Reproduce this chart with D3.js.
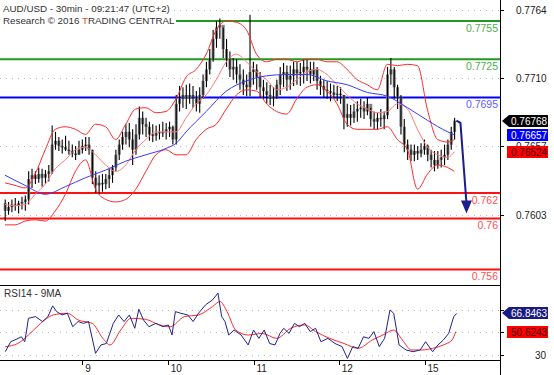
<!DOCTYPE html>
<html>
<head>
<meta charset="utf-8">
<script src="https://cdn.jsdelivr.net/npm/d3@7/dist/d3.min.js"></script>
<style>
  body { margin: 0; background: #fff; }
  svg { display: block; font-family: "Liberation Sans", Arial, sans-serif; }
</style>
</head>
<body>
<svg id="chart" width="554" height="375"></svg>
<script>
// hourly candles (open = previous close)
const firstOpen = 0.7612;
const closes = [
  0.7606,0.7609,0.7611,0.7610,0.7612,0.7613,0.7615,0.7631,0.7634,0.7631,
  0.7635,0.7632,0.7635,0.7637,0.7658,0.7661,0.7657,0.7656,0.7654,0.7653,
  0.7651,0.7650,0.7654,0.7657,0.7658,0.7654,0.7632,0.7626,0.7628,0.7627,
  0.7631,0.7634,0.7640,0.7650,0.7658,0.7664,0.7668,0.7662,0.7654,0.7666,
  0.7679,0.7674,0.7672,0.7666,0.7665,0.7667,0.7668,0.7668,0.7670,0.7672,
  0.7662,0.7690,0.7694,0.7697,0.7694,0.7697,0.7695,0.7690,0.7697,0.7708,
  0.7717,0.7726,0.7741,0.7750,0.7752,0.7733,0.7725,0.7717,0.7719,0.7713,
  0.7709,0.7705,0.7703,0.7715,0.7717,0.7711,0.7703,0.7700,0.7697,0.7694,
  0.7695,0.7705,0.7713,0.7715,0.7709,0.7712,0.7717,0.7714,0.7715,0.7719,
  0.7717,0.7713,0.7717,0.7708,0.7704,0.7701,0.7700,0.7699,0.7697,0.7698,
  0.7697,0.7679,0.7682,0.7679,0.7684,0.7686,0.7687,0.7684,0.7690,0.7678,
  0.7676,0.7679,0.7678,0.7681,0.7713,0.7717,0.7703,0.7695,0.7672,0.7658,
  0.7654,0.7650,0.7653,0.7651,0.7654,0.7657,0.7650,0.7646,0.7642,0.7646,
  0.7648,0.7650,0.7658,0.7668,0.76768
];
const highs = [
  0.7615,0.7613,0.7615,0.7616,0.7614,0.7617,0.7618,0.7637,0.7639,0.7637,
  0.7640,0.7639,0.7638,0.7642,0.7673,0.7668,0.7664,0.7662,0.7665,0.7661,
  0.7658,0.7657,0.7661,0.7662,0.7664,0.7664,0.7654,0.7637,0.7634,0.7635,
  0.7635,0.7639,0.7642,0.7654,0.7662,0.7668,0.7674,0.7675,0.7670,0.7674,
  0.7688,0.7684,0.7679,0.7676,0.7674,0.7673,0.7674,0.7676,0.7675,0.7676,
  0.7673,0.7697,0.7704,0.7703,0.7705,0.7706,0.7704,0.7700,0.7703,0.7713,
  0.7723,0.7733,0.7748,0.7755,0.7757,0.7750,0.7741,0.7731,0.7726,0.7725,
  0.7721,0.7717,0.7713,0.7760,0.7723,0.7721,0.7715,0.7709,0.7707,0.7705,
  0.7703,0.7709,0.7719,0.7722,0.7720,0.7720,0.7723,0.7723,0.7722,0.7725,
  0.7725,0.7723,0.7723,0.7719,0.7712,0.7709,0.7708,0.7706,0.7705,0.7704,
  0.7703,0.7697,0.7690,0.7689,0.7690,0.7692,0.7694,0.7692,0.7695,0.7687,
  0.7684,0.7683,0.7686,0.7684,0.7719,0.7726,0.7719,0.7705,0.7697,0.7678,
  0.7662,0.7658,0.7658,0.7657,0.7659,0.7662,0.7658,0.7654,0.7653,0.7653,
  0.7654,0.7658,0.7662,0.7672,0.7679
];
const lows = [
  0.7598,0.7603,0.7605,0.7606,0.7604,0.7607,0.7606,0.7611,0.7624,0.7627,
  0.7628,0.7625,0.7627,0.7629,0.7635,0.7654,0.7653,0.7651,0.7653,0.7650,
  0.7648,0.7646,0.7650,0.7651,0.7653,0.7650,0.7627,0.7620,0.7619,0.7621,
  0.7623,0.7624,0.7628,0.7637,0.7646,0.7654,0.7658,0.7656,0.7642,0.7650,
  0.7662,0.7666,0.7664,0.7661,0.7660,0.7661,0.7662,0.7664,0.7662,0.7664,
  0.7658,0.7658,0.7684,0.7687,0.7686,0.7690,0.7687,0.7684,0.7683,0.7694,
  0.7703,0.7713,0.7723,0.7734,0.7741,0.7726,0.7719,0.7711,0.7709,0.7706,
  0.7701,0.7697,0.7696,0.7696,0.7705,0.7701,0.7695,0.7694,0.7690,0.7689,
  0.7688,0.7694,0.7697,0.7703,0.7700,0.7701,0.7704,0.7705,0.7704,0.7706,
  0.7708,0.7706,0.7708,0.7701,0.7697,0.7695,0.7694,0.7692,0.7694,0.7692,
  0.7690,0.7670,0.7672,0.7673,0.7675,0.7676,0.7679,0.7678,0.7681,0.7672,
  0.7670,0.7670,0.7672,0.7670,0.7678,0.7705,0.7694,0.7686,0.7666,0.7652,
  0.7646,0.7645,0.7645,0.7646,0.7648,0.7650,0.7645,0.7640,0.7637,0.7639,
  0.7640,0.7642,0.7646,0.7654,0.7662
];

// Bollinger bands, sampled every 3 bars (last sample on the last bar)
const bandIdx = [0,3,6,9,12,15,18,21,24,27,30,33,36,39,42,45,48,51,54,57,60,63,66,69,72,75,78,81,84,87,90,93,96,99,102,105,108,111,114,117,120,123,126,129,132,134];
const bandUpper = [
  0.7628,0.7626,0.7624,0.7635,0.7654,0.7670,0.7672,0.7670,0.7666,0.7674,
  0.7672,0.7662,0.7674,0.7686,0.7687,0.7683,0.7684,0.7694,0.7711,0.7717,
  0.7729,0.7748,0.7755,0.7754,0.7748,0.7729,0.7723,0.7725,0.7725,0.7723,
  0.7725,0.7725,0.7723,0.7723,0.7717,0.7709,0.7705,0.7701,0.7721,0.7720,
  0.7721,0.7720,0.7685,0.7662,0.7660,0.7662
];
const bandMid = [
  0.7611,0.7610,0.7611,0.7619,0.7627,0.7639,0.7646,0.7654,0.7656,0.7650,
  0.7642,0.7637,0.7642,0.7654,0.7662,0.7668,0.7668,0.7668,0.7679,0.7690,
  0.7697,0.7709,0.7723,0.7729,0.7723,0.7715,0.7709,0.7701,0.7703,0.7709,
  0.7715,0.7717,0.7713,0.7705,0.7697,0.7690,0.7686,0.7683,0.7684,0.7690,
  0.7686,0.7670,0.7656,0.7650,0.7648,0.76524
];
const bandLower = [
  0.7595,0.7595,0.7598,0.7599,0.7598,0.7606,0.7619,0.7637,0.7646,0.7623,
  0.7615,0.7613,0.7615,0.7623,0.7637,0.7650,0.7654,0.7650,0.7650,0.7662,
  0.7670,0.7674,0.7686,0.7697,0.7701,0.7700,0.7690,0.7684,0.7682,0.7694,
  0.7703,0.7705,0.7700,0.7690,0.7674,0.7670,0.7670,0.7670,0.7672,0.7662,
  0.7654,0.7623,0.7635,0.7642,0.7640,0.7637
];

// longer moving average (blue)
const maIdx = [0,6,12,18,24,30,36,42,48,51,54,60,66,72,78,84,90,96,102,108,114,120,126,132,134];
const maVal = [
  0.7634,0.7626,0.7619,0.7625,0.7632,0.7638,0.7645,0.7650,0.7655,0.7659,
  0.7668,0.7684,0.7700,0.7708,0.7712,0.7713,0.7713,0.7708,0.7705,0.7699,
  0.7696,0.7687,0.7677,0.7668,0.76657
];

// RSI14 and its 9MA, [bar position, value]
const rsi = [
  [0.1,32.7],[1.7,41.6],[3.3,43.7],[4.9,46],[5.9,41.6],[7.0,62.5],[9.1,64],[11.2,59.6],
  [12.8,64],[14.2,73.6],[15.4,68.5],[17.0,65.5],[18.6,67],[20.2,55],[21.8,59.6],[23.4,58],
  [24.9,59.6],[27.0,31.2],[28.6,38.7],[30.2,40],[32.3,58],[33.9,65.5],[35.5,59.6],[37.1,65.5],
  [38.7,53.6],[39.9,70.6],[41.3,61],[42.9,55],[45.0,58],[47.1,55],[48.7,56.6],[49.8,47.6],
  [50.8,68.5],[52.4,67],[54.5,65.5],[56.1,59.6],[57.7,67],[59.8,74.5],[61.9,79],[63.5,85],
  [64.6,64],[65.6,59.6],[66.7,47.6],[68.3,52],[70.4,47.6],[72.5,38.7],[74.1,52],[75.7,44.6],
  [77.3,52],[78.9,40],[80.5,38.7],[82.0,49],[83.1,53.6],[84.7,49],[86.3,58],[87.8,55],
  [89.4,58],[91.0,50.6],[92.6,53.6],[94.2,41.6],[96.3,44.6],[98.4,40],[100.5,37.2],[102.1,26.7],
  [103.7,37.2],[105.3,35.7],[106.9,46],[108.5,44.6],[110.0,50.6],[111.6,37.2],[113.2,44.6],[114.8,70],
  [115.9,67],[117.5,38.7],[119.6,34.2],[121.7,32.7],[123.8,34.2],[125.4,41.6],[127.5,32.7],[129.1,38.7],
  [130.7,43.1],[132.3,49],[133.8,64],[134.7,66.8463]
];
const rsiMa = [
  [0.1,37.2],[3.8,40],[7.0,47.6],[10.1,56.6],[14.4,65.5],[18.6,67],[21.8,61],[26.0,58],
  [29.2,44.6],[31.3,38.7],[34.5,52],[37.6,62.5],[41.9,61.6],[46.1,56.6],[49.3,55],[53.5,64],
  [57.7,65.5],[61.9,73],[64.1,77.5],[66.2,68.5],[68.8,52],[72.5,47.6],[76.7,49],[81.0,44.6],
  [85.2,53.6],[89.4,56.6],[92.6,50.6],[96.8,44.6],[101.1,40],[105.3,35.7],[109.5,43.1],[112.7,47.6],
  [115.9,52],[118.5,43.1],[121.2,34.2],[124.3,34.2],[127.5,35.7],[130.7,38.7],[133.3,43.1],[134.4,50.6243]
];

// levels drawn by the analyst
const levels = [0.7755, 0.7725, 0.7695, 0.762, 0.76, 0.756];
const levelText = ['0.7755', '0.7725', '0.7695', '0.762', '0.76', '0.756'];
const levelType = ['res', 'res', 'pivot', 'sup', 'sup', 'sup'];

const priceTicks = [0.7764, 0.7710, 0.7657, 0.7603];
const rsiTicks = [70, 50, 30];
const rsiTickLabels = [30];   // 70 and 50 sit under the value tags
const dayTicks = [23.0, 48.5, 74.1, 99.5, 125.1];
const dayLabels = ['9', '10', '11', '12', '15'];

// target arrow: from last price down to the support
const arrowPts = [[134.6, 0.76768], [135.8, 0.7675], [137.6, 0.7604]];

const lastPrice = 0.76768, lastMa = 0.76657, lastMid = 0.76524;
const lastRsi = 66.8463, lastRsiMa = 50.6243;

const W = 554, H = 375;
const plotRight = 500, mainBottom = 285, rsiTop = 285, rsiBottom = 360;

const svg = d3.select('#chart');

const x = d3.scaleLinear().domain([0, 134]).range([5, 454.4]);
const y = d3.scaleLinear().domain([0.75478, 0.77715]).range([mainBottom, 0]);
const yr = d3.scaleLinear().domain([30, 70]).range([354.7, 309.9]);

const levelColor = { res: '#1f9a1f', pivot: '#0000ff', sup: '#ff1010' };
const levelTextColor = { res: '#4cb04c', pivot: '#6060ff', sup: '#ff5050' };

svg.append('defs').append('clipPath').attr('id', 'mainClip')
  .append('rect').attr('x', 0).attr('y', 0).attr('width', plotRight).attr('height', mainBottom);
svg.select('defs').append('clipPath').attr('id', 'rsiClip')
  .append('rect').attr('x', 0).attr('y', rsiTop).attr('width', plotRight).attr('height', rsiBottom - rsiTop);

// dotted grid
svg.append('g')
  .selectAll('line')
  .data(priceTicks)
  .join('line')
  .attr('x1', 0).attr('x2', plotRight)
  .attr('y1', d => Math.round(y(d)) + 0.5).attr('y2', d => Math.round(y(d)) + 0.5)
  .attr('stroke', '#bbb').attr('stroke-dasharray', '1,5');

svg.append('g')
  .selectAll('line')
  .data(rsiTicks)
  .join('line')
  .attr('x1', 0).attr('x2', plotRight)
  .attr('y1', d => Math.round(yr(d)) + 0.5).attr('y2', d => Math.round(yr(d)) + 0.5)
  .attr('stroke', '#bbb').attr('stroke-dasharray', '1,5');

const main = svg.append('g').attr('clip-path', 'url(#mainClip)');

// level lines
main.append('g')
  .selectAll('line')
  .data(levels)
  .join('line')
  .attr('x1', 0).attr('x2', plotRight)
  .attr('y1', d => y(d)).attr('y2', d => y(d))
  .attr('stroke', (d, i) => levelColor[levelType[i]])
  .attr('stroke-width', 2);

// candles
const bars = closes.map((c, i) => ({
  i, o: i ? closes[i - 1] : firstOpen, h: highs[i], l: lows[i], c
}));

const candles = main.append('g').attr('class', 'candles');
candles.selectAll('rect')
  .data(bars)
  .join('rect')
  .attr('x', d => x(d.i) - 1.3)
  .attr('width', 3)
  .attr('y', d => y(Math.max(d.o, d.c)))
  .attr('height', d => Math.max(1.5, Math.abs(y(d.o) - y(d.c))))
  .attr('fill', '#7d7d7d');
candles.selectAll('line')
  .data(bars)
  .join('line')
  .attr('x1', d => x(d.i) + 0.2).attr('x2', d => x(d.i) + 0.2)
  .attr('y1', d => y(d.h)).attr('y2', d => y(d.l))
  .attr('stroke', '#000').attr('stroke-width', 1.1);

// bands and MA
const bandLine = (vals) => d3.line()
  .x((d, i) => x(bandIdx[i]))
  .y(d => y(d))
  .curve(d3.curveMonotoneX)(vals);

main.append('path').attr('d', bandLine(bandUpper))
  .attr('fill', 'none').attr('stroke', '#ff2a2a').attr('stroke-width', 1);
main.append('path').attr('d', bandLine(bandLower))
  .attr('fill', 'none').attr('stroke', '#ff2a2a').attr('stroke-width', 1);
main.append('path').attr('d', bandLine(bandMid))
  .attr('fill', 'none').attr('stroke', '#ff7a7a').attr('stroke-width', 1);

main.append('path')
  .attr('d', d3.line()
    .x((d, i) => x(maIdx[i]))
    .y(d => y(d))
    .curve(d3.curveMonotoneX)(maVal))
  .attr('fill', 'none').attr('stroke', '#3a3aff').attr('stroke-width', 1);

// level labels
svg.append('g')
  .selectAll('text')
  .data(levels)
  .join('text')
  .attr('x', 498)
  .attr('y', d => y(d) + 11)
  .attr('text-anchor', 'end')
  .attr('font-size', 10.5)
  .attr('fill', (d, i) => levelTextColor[levelType[i]])
  .text((d, i) => levelText[i]);

// arrow
const arrowEnd = arrowPts[arrowPts.length - 1];
const tipX = x(arrowEnd[0]), tipY = y(arrowEnd[1]);
svg.append('path')
  .attr('d', d3.line().x(d => x(d[0])).y(d => y(d[1]))(arrowPts.slice(0, -1).concat([[arrowEnd[0], y.invert(tipY - 10)]])))
  .attr('fill', 'none').attr('stroke', '#1c1c8a').attr('stroke-width', 2);
svg.append('path')
  .attr('d', `M${tipX - 5.5},${tipY - 13}L${tipX + 5.5},${tipY - 13}L${tipX},${tipY}Z`)
  .attr('fill', '#1c1c8a');

// RSI panel
const rsiG = svg.append('g').attr('clip-path', 'url(#rsiClip)');
rsiG.append('path')
  .attr('d', d3.line().x(d => x(d[0])).y(d => yr(d[1])).curve(d3.curveMonotoneX)(rsiMa))
  .attr('fill', 'none').attr('stroke', '#ff2a2a').attr('stroke-width', 1);
rsiG.append('path')
  .attr('d', d3.line().x(d => x(d[0])).y(d => yr(d[1]))(rsi))
  .attr('fill', 'none').attr('stroke', '#22228c').attr('stroke-width', 1);

svg.append('text').attr('x', 4).attr('y', 297)
  .attr('font-size', 10).attr('fill', '#333').text('RSI14 - 9MA');

// frame lines
svg.append('line').attr('x1', plotRight + 0.5).attr('x2', plotRight + 0.5)
  .attr('y1', 0).attr('y2', H).attr('stroke', '#000');
svg.append('line').attr('x1', 0).attr('x2', plotRight)
  .attr('y1', rsiTop + 0.5).attr('y2', rsiTop + 0.5).attr('stroke', '#000');
svg.append('line').attr('x1', 0).attr('x2', plotRight)
  .attr('y1', rsiBottom + 0.5).attr('y2', rsiBottom + 0.5).attr('stroke', '#000');

// right price axis
const priceAxis = svg.append('g');
priceAxis.selectAll('line')
  .data(priceTicks)
  .join('line')
  .attr('x1', plotRight).attr('x2', plotRight + 4)
  .attr('y1', d => Math.round(y(d)) + 0.5).attr('y2', d => Math.round(y(d)) + 0.5)
  .attr('stroke', '#000');
priceAxis.selectAll('text')
  .data(priceTicks)
  .join('text')
  .attr('x', 516).attr('y', d => y(d) + 4)
  .attr('font-size', 10).attr('fill', '#222')
  .text(d => d3.format('.4f')(d));

const rsiAxis = svg.append('g');
rsiAxis.selectAll('line')
  .data(rsiTicks)
  .join('line')
  .attr('x1', plotRight).attr('x2', plotRight + 4)
  .attr('y1', d => Math.round(yr(d)) + 0.5).attr('y2', d => Math.round(yr(d)) + 0.5)
  .attr('stroke', '#000');
rsiAxis.selectAll('text')
  .data(rsiTickLabels)
  .join('text')
  .attr('x', 546).attr('y', d => yr(d) + 4)
  .attr('text-anchor', 'end')
  .attr('font-size', 10).attr('fill', '#222')
  .text(d => d);

// bottom day axis
const dayAxis = svg.append('g');
dayAxis.selectAll('line')
  .data(dayTicks)
  .join('line')
  .attr('x1', d => Math.round(x(d)) + 0.5).attr('x2', d => Math.round(x(d)) + 0.5)
  .attr('y1', rsiBottom).attr('y2', rsiBottom + 5)
  .attr('stroke', '#000');
dayAxis.selectAll('text')
  .data(dayTicks)
  .join('text')
  .attr('x', d => x(d) + 3).attr('y', 372)
  .attr('font-size', 10).attr('fill', '#222')
  .text((d, i) => dayLabels[i]);

// value tags on the right axis
function tag(yPos, label, fill, textFill, pointer) {
  const g = svg.append('g');
  const top = Math.round(yPos) - 6;
  if (pointer) {
    g.append('path')
      .attr('d', `M${plotRight + 2},${top + 6}L${plotRight + 9},${top}L548,${top}L548,${top + 12}L${plotRight + 9},${top + 12}Z`)
      .attr('fill', fill);
  } else {
    g.append('rect').attr('x', 507).attr('y', top).attr('width', 41).attr('height', 12).attr('fill', fill);
  }
  g.append('text').attr('x', 511).attr('y', top + 10)
    .attr('font-size', 10).attr('fill', textFill).text(label);
}
tag(y(lastPrice), d3.format('.5f')(lastPrice), '#000', '#fff', true);
tag(y(lastMa), d3.format('.5f')(lastMa), '#0000ff', '#fff', false);
tag(y(lastMid), d3.format('.5f')(lastMid), '#ff0000', '#400', false);
tag(yr(lastRsi), d3.format('.4f')(lastRsi), '#1a1a80', '#fff', true);
tag(yr(lastRsiMa), d3.format('.4f')(lastRsiMa), '#ff0000', '#400', false);

// header
const head = svg.append('g');
const h1 = head.append('text').attr('x', 3).attr('y', 12).attr('font-size', 9.8).attr('fill', '#333')
  .text('AUD/USD - 30min - 09:21:47 (UTC+2)');
const h2 = head.append('text').attr('x', 3).attr('y', 24).attr('font-size', 9.8).attr('fill', '#333');
h2.append('tspan').text('Research © 2016 ');
h2.append('tspan').attr('fill', '#e0501a').text('T');
h2.append('tspan').text('RADING CENTRAL');
[h1, h2].forEach(t => {
  const b = t.node().getBBox();
  head.insert('rect', 'text').attr('x', 0).attr('y', b.y).attr('width', b.x + b.width + 1)
    .attr('height', b.height).attr('fill', '#fff');
});
</script>
</body>
</html>
